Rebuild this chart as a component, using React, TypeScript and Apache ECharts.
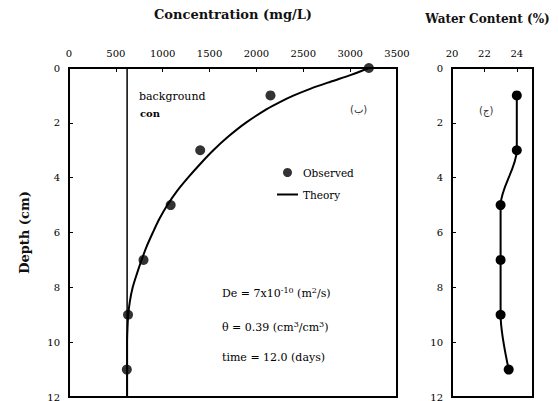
import React, { useEffect, useRef } from 'react';
import * as echarts from 'echarts';

const concTicks = [0, 500, 1000, 1500, 2000, 2500, 3000, 3500];
const depthTicks = [0, 2, 4, 6, 8, 10, 12];
const wcTicks = [20, 22, 24];

const obsDepth = [0, 1, 3, 5, 7, 9, 11];
const obsConc = [3200, 2150, 1400, 1085, 795, 630, 617];

const theoryDepth = [0, 0.25, 0.5, 0.75, 1, 1.25, 1.5, 2, 2.5, 3, 3.5, 4, 4.5, 5, 5.5, 6, 6.5, 7, 7.5, 8, 8.5, 9, 9.5, 10, 11, 12];
const theoryConc = [3200, 3010, 2790, 2580, 2400, 2245, 2110, 1885, 1700, 1540, 1400, 1270, 1150, 1050, 965, 895, 830, 775, 725, 680, 650, 632, 624, 620, 620, 620];

const backgroundConc = 620;
const bgDepth = [0, 12];

const wcDepth = [1, 3, 5, 7, 9, 11];
const wcValue = [24.0, 24.0, 23.0, 23.0, 23.0, 23.5];

const FONT = 'DejaVu Serif';

export default function App() {
  const ref = useRef<HTMLDivElement>(null);
  useEffect(() => {
    document.body.style.margin = '0';
    const chart = echarts.init(ref.current!, null, { renderer: 'svg' });
    const axisLabel = { fontFamily: FONT, fontSize: 10, color: '#000' };
    const yAxisBase = {
      type: 'value' as const,
      min: 0,
      max: 12,
      interval: 2,
      inverse: true,
      axisLine: { show: true, lineStyle: { color: '#000', width: 2 } },
      axisTick: { show: true, inside: true, length: 4, lineStyle: { color: '#000' } },
      splitLine: { show: false },
      axisLabel: { ...axisLabel, margin: 9 },
    };
    const titleStyle = { fontFamily: FONT, fontSize: 13, fontWeight: 'bold' as const, color: '#111' };
    chart.setOption({
      animation: false,
      backgroundColor: '#fff',
      textStyle: { fontFamily: FONT },
      grid: [
        { left: 69, top: 68, width: 328, height: 329, show: true, borderColor: '#000', borderWidth: 2, backgroundColor: 'transparent', outerBoundsMode: 'none', containLabel: false },
        { left: 452, top: 68, width: 81, height: 329, show: true, borderColor: '#000', borderWidth: 2, backgroundColor: 'transparent', outerBoundsMode: 'none', containLabel: false },
      ],
      xAxis: [
        {
          gridIndex: 0, type: 'value', position: 'top', min: 0, max: 3500, interval: 500,
          name: 'Concentration (mg/L)', nameLocation: 'middle', nameGap: 47,
          nameTextStyle: titleStyle,
          axisLine: { show: true, lineStyle: { color: '#000', width: 2 } },
          axisTick: { show: true, inside: true, length: 4, lineStyle: { color: '#000' } },
          splitLine: { show: false },
          axisLabel: { ...axisLabel, margin: 10, formatter: (v: number) => (concTicks.includes(v) ? String(v) : '') },
        },
        {
          gridIndex: 1, type: 'value', position: 'top', min: 20, max: 25,
          name: 'Water Content (%)', nameLocation: 'middle', nameGap: 43,
          nameTextStyle: { ...titleStyle, fontSize: 12, padding: [0, 10, 0, 0] },
          axisLine: { show: true, lineStyle: { color: '#000', width: 2 } },
          axisTick: { show: true, inside: true, length: 4, lineStyle: { color: '#000' }, customValues: wcTicks },
          splitLine: { show: false },
          axisLabel: { ...axisLabel, margin: 10, customValues: wcTicks, formatter: (v: number) => String(v) },
        },
      ],
      yAxis: [
        {
          ...yAxisBase, gridIndex: 0,
          name: 'Depth (cm)', nameLocation: 'middle', nameGap: 38, nameRotate: 90,
          nameTextStyle: titleStyle,
          axisLabel: { ...yAxisBase.axisLabel, formatter: (v: number) => (depthTicks.includes(v) ? String(v) : '') },
        },
        {
          ...yAxisBase, gridIndex: 1,
          axisLabel: { ...yAxisBase.axisLabel, formatter: (v: number) => (depthTicks.includes(v) ? String(v) : '') },
        },
      ],
      legend: {
        left: 271, top: 162, orient: 'vertical', itemGap: 11, itemWidth: 21, itemHeight: 9,
        textStyle: { fontFamily: FONT, fontSize: 10.5, color: '#000' },
        data: [
          { name: 'Observed', icon: 'circle' },
          { name: 'Theory', itemStyle: { opacity: 0 } },
        ],
      },
      series: [
        {
          name: 'background', type: 'line', xAxisIndex: 0, yAxisIndex: 0,
          data: bgDepth.map((d) => [backgroundConc, d]), symbol: 'none',
          lineStyle: { color: '#000', width: 1.5 }, silent: true,
        },
        {
          name: 'Theory', type: 'line', xAxisIndex: 0, yAxisIndex: 0,
          data: theoryDepth.map((d, i) => [theoryConc[i], d]), symbol: 'none',
          smooth: 0.3,
          lineStyle: { color: '#000', width: 2 }, itemStyle: { color: '#000' },
        },
        {
          name: 'Observed', type: 'scatter', xAxisIndex: 0, yAxisIndex: 0,
          data: obsDepth.map((d, i) => [obsConc[i], d]), symbolSize: 10,
          itemStyle: { color: '#000' },
        },
        {
          name: 'Water', type: 'line', xAxisIndex: 1, yAxisIndex: 1,
          data: wcDepth.map((d, i) => [wcValue[i], d]), symbol: 'circle', symbolSize: 10,
          smooth: 0.3,
          lineStyle: { color: '#000', width: 2 }, itemStyle: { color: '#000' },
        },
      ],
      graphic: [
        { type: 'text', left: 139, top: 91, style: { text: 'background', fontFamily: FONT, fontSize: 11, fill: '#000' } },
        { type: 'text', left: 140, top: 108, style: { text: 'con', fontFamily: FONT, fontSize: 10, fontWeight: 'bold', fill: '#000' } },
        { type: 'text', left: 350, top: 104, style: { text: '(ب)', fontFamily: 'DejaVu Sans', fontSize: 10, fill: '#333' } },
        { type: 'text', left: 479, top: 105, style: { text: '(ج)', fontFamily: 'DejaVu Sans', fontSize: 10, fill: '#333' } },
        {
          type: 'text', left: 222, top: 286,
          style: {
            text: '{a|De = 7x10}{s|-10}{a| (m}{s|2}{a|/s)}',
            rich: {
              a: { fontFamily: FONT, fontSize: 11, fill: '#000' },
              s: { fontFamily: FONT, fontSize: 8, fill: '#000', padding: [0, 0, 7, 0] },
            },
          },
        },
        {
          type: 'text', left: 222, top: 320,
          style: {
            text: '{a|θ = 0.39 (cm}{s|3}{a|/cm}{s|3}{a|)}',
            rich: {
              a: { fontFamily: FONT, fontSize: 11, fill: '#000' },
              s: { fontFamily: FONT, fontSize: 8, fill: '#000', padding: [0, 0, 7, 0] },
            },
          },
        },
        { type: 'text', left: 222, top: 352, style: { text: 'time = 12.0 (days)', fontFamily: FONT, fontSize: 11, fill: '#000' } },
      ],
    });
    return () => chart.dispose();
  }, []);
  return <div ref={ref} style={{ position: 'absolute', left: 0, top: 0, width: 558, height: 401 }} />;
}
